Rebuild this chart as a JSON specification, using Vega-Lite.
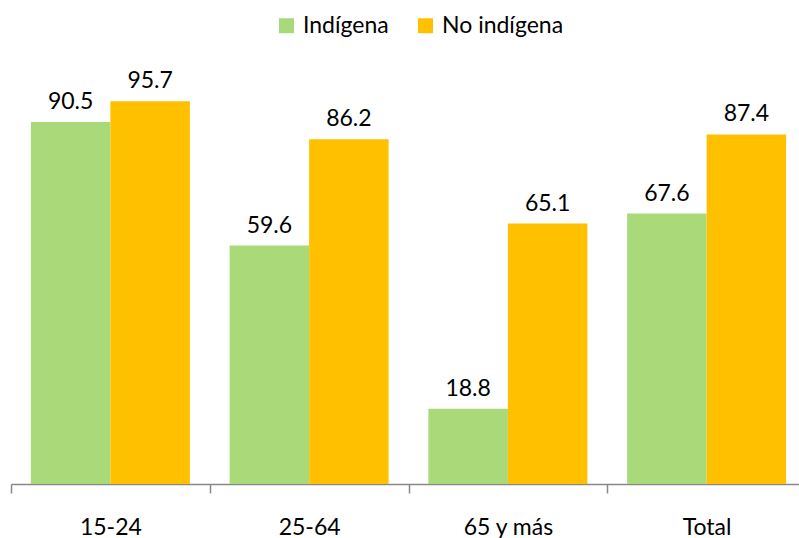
{
  "$schema": "https://vega.github.io/schema/vega-lite/v6.json",
  "width": 788,
  "height": 400,
  "autosize": {"type": "none"},
  "padding": {"left": 11, "top": 84, "right": 0, "bottom": 54},
  "config": {
    "view": {"stroke": null},
    "font": "Lato",
    "text": {"font": "Lato"}
  },
  "data": {
    "values": [
      {"grupo": "15-24", "serie": "Indígena", "valor": 90.5},
      {"grupo": "15-24", "serie": "No indígena", "valor": 95.7},
      {"grupo": "25-64", "serie": "Indígena", "valor": 59.6},
      {"grupo": "25-64", "serie": "No indígena", "valor": 86.2},
      {"grupo": "65 y más", "serie": "Indígena", "valor": 18.8},
      {"grupo": "65 y más", "serie": "No indígena", "valor": 65.1},
      {"grupo": "Total", "serie": "Indígena", "valor": 67.6},
      {"grupo": "Total", "serie": "No indígena", "valor": 87.4}
    ]
  },
  "encoding": {
    "x": {
      "field": "grupo",
      "type": "nominal",
      "sort": ["15-24", "25-64", "65 y más", "Total"],
      "scale": {"paddingInner": 0, "paddingOuter": 0, "range": [0, 795]},
      "axis": {
        "title": null,
        "labelAngle": 0,
        "labelFontSize": 23,
        "labelColor": "#000000",
        "labelPadding": 23,
        "domainColor": "#888888",
        "domainWidth": 1.5,
        "tickColor": "#888888",
        "tickWidth": 1.5,
        "tickSize": 9,
        "tickBand": "extent"
      }
    },
    "xOffset": {
      "field": "serie",
      "type": "nominal",
      "sort": ["Indígena", "No indígena"],
      "scale": {"paddingOuter": 0.25, "paddingInner": 0}
    },
    "y": {
      "field": "valor",
      "type": "quantitative",
      "scale": {"domain": [0, 100]},
      "axis": null
    }
  },
  "layer": [
    {
      "mark": {"type": "bar"},
      "encoding": {
        "color": {
          "field": "serie",
          "type": "nominal",
          "sort": ["Indígena", "No indígena"],
          "scale": {"domain": ["Indígena", "No indígena"], "range": ["#A9D979", "#FFC000"]},
          "legend": {
            "title": null,
            "orient": "none",
            "direction": "horizontal",
            "legendX": 264,
            "legendY": -70,
            "padding": 0,
            "symbolType": "square",
            "symbolSize": 225,
            "symbolStrokeWidth": 0,
            "labelFontSize": 23,
            "labelColor": "#000000",
            "labelOffset": 5,
            "columnPadding": 25
          }
        }
      }
    },
    {
      "mark": {"type": "text", "dy": -20, "fontSize": 23, "color": "#000000"},
      "encoding": {
        "text": {"field": "valor", "type": "quantitative", "format": ".1f"}
      }
    }
  ]
}
